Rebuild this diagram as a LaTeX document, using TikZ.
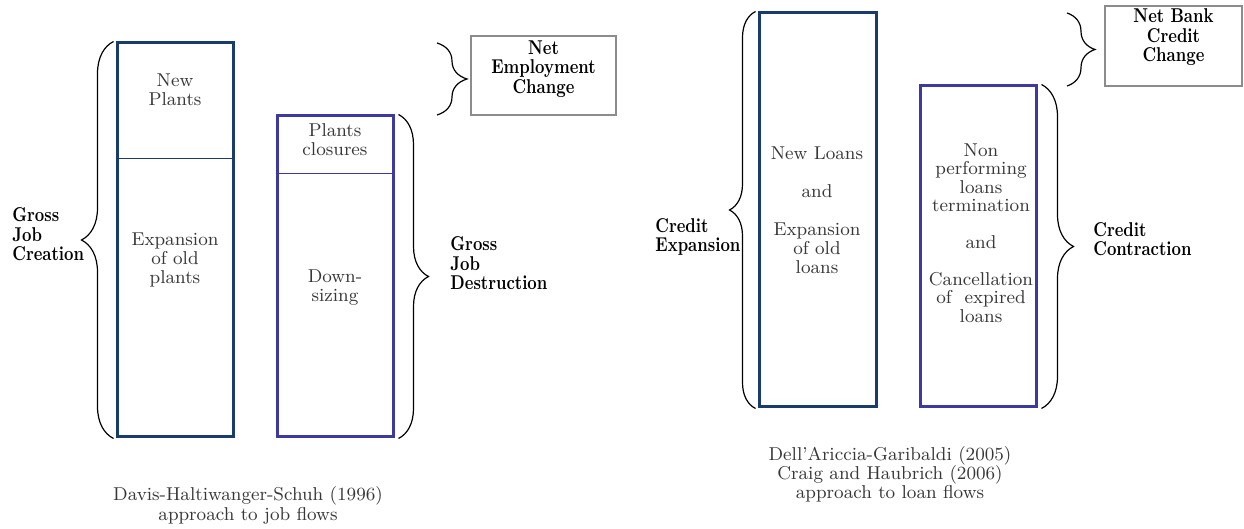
\documentclass[tikz,border=0pt]{standalone}
\usetikzlibrary{decorations.pathreplacing}
\definecolor{boxblue}{RGB}{24,60,108}
\definecolor{boxindigo}{RGB}{60,58,160}
\definecolor{txtgray}{RGB}{55,55,55}
\definecolor{netgray}{RGB}{140,140,140}
\newcommand{\lbl}[1]{\scalebox{0.82}[1]{\begin{tabular}{@{}l@{}}#1\end{tabular}}}
\newcommand{\lbc}[1]{\scalebox{0.82}[1]{\begin{tabular}{@{}c@{}}#1\end{tabular}}}
\tikzset{
  stackA/.style={draw=boxblue, line width=1.5pt, minimum width=58pt, inner sep=0pt},
  stackB/.style={draw=boxindigo, line width=1.5pt, minimum width=58pt, inner sep=0pt},
  divA/.style={draw=boxblue, line width=0.5pt},
  divB/.style={draw=boxindigo, line width=0.5pt},
  netbox/.style={draw=netgray, line width=1pt, inner sep=0pt},
  body/.style={text=txtgray, font=\fontsize{9.3}{9.5}\selectfont, align=center, inner sep=0pt},
  lab/.style={font=\fontsize{10}{9.75}\selectfont\bfseries, inner sep=0pt, anchor=west},
  netlab/.style={font=\fontsize{10}{9.75}\selectfont\bfseries, inner sep=0pt},
  brc/.style={draw=black, line width=0.6pt, decorate, decoration={brace, amplitude=#1}},
}
\begin{document}
\begin{tikzpicture}[x=0.5pt,y=-0.5pt]
\useasboundingbox (0,0) rectangle (1244,529);

% ---------- left panel ----------
\node[stackA, minimum height=197pt] (A) at (175,240) {};
\node[stackB, minimum height=160.5pt] (B) at (335,276.5) {};
\coordinate (ya) at (0,159);
\coordinate (yb) at (0,174);
\draw[divA] (A.west |- ya) -- (A.east |- ya);
\draw[divB] (B.west |- yb) -- (B.east |- yb);

\node[body] (np) at (175,90) {New\\Plants};
\node[body] (eop) at (175,260) {Expansion\\of old\\plants};
\node[body] (pc) at (335,140) {Plants\\closures};
\node[body] (ds) at (335,288) {Down-\\sizing};

\draw[brc=16pt] ([xshift=-1pt]A.south west) -- ([xshift=-1pt]A.north west);
\draw[brc=15pt] ([xshift=2pt]B.north east) -- ([xshift=2pt]B.south east);
\coordinate (t1) at (437,43);
\coordinate (t2) at (437,115);
\draw[brc=15pt] (t1) -- (t2);

\node[lab] (gjc) at (12,237) {\lbl{Gross\\Job\\Creation}};
\node[lab] (gjd) at (450,266) {\lbl{Gross\\Job\\Destruction}};

\node[netbox, minimum width=72.5pt, minimum height=39.5pt] (N) at (543.5,75.5) {};
\node[netlab] (nec) at (543.5,70) {\lbc{Net\\Employment\\Change}};

\node[body, font=\fontsize{9.3}{10}\selectfont] (cap1) at (248,505) {Davis-Haltiwanger-Schuh (1996)\\approach to job flows};

% ---------- right panel ----------
\node[stackA, minimum width=58.5pt, minimum height=197pt] (C) at (817.5,210) {};
\node[stackB, minimum height=160.5pt] (D) at (978,246.5) {};

\node[body] (cl) at (817,210) {New Loans\\[9.5pt]and\\[9.5pt]Expansion\\of old\\loans};
\node[body, font=\fontsize{9.3}{9.2}\selectfont] (dl) at (981,233) {Non\\performing\\loans\\termination\\[9.2pt]and\\[9.2pt]Cancellation\\of \ expired\\loans};

\draw[brc=13pt] ([xshift=-1pt]C.south west) -- ([xshift=-1pt]C.north west);
\draw[brc=16pt] ([xshift=2pt]D.north east) -- ([xshift=2pt]D.south east);
\coordinate (t3) at (1067,13);
\coordinate (t4) at (1067,86);
\draw[brc=14pt] (t3) -- (t4);

\node[lab] (ce) at (655,238) {\lbl{Credit\\Expansion}};
\node[lab] (cc) at (1093,242) {\lbl{Credit\\Contraction}};

\node[netbox, minimum width=68.5pt, minimum height=40pt] (M) at (1173.5,46) {};
\node[netlab] (nbc) at (1173.5,38) {\lbc{Net Bank\\Credit\\Change}};

\node[body] (cap2) at (890,474) {Dell'Ariccia-Garibaldi (2005)\\Craig and Haubrich (2006)\\approach to loan flows};
\end{tikzpicture}
\end{document}
